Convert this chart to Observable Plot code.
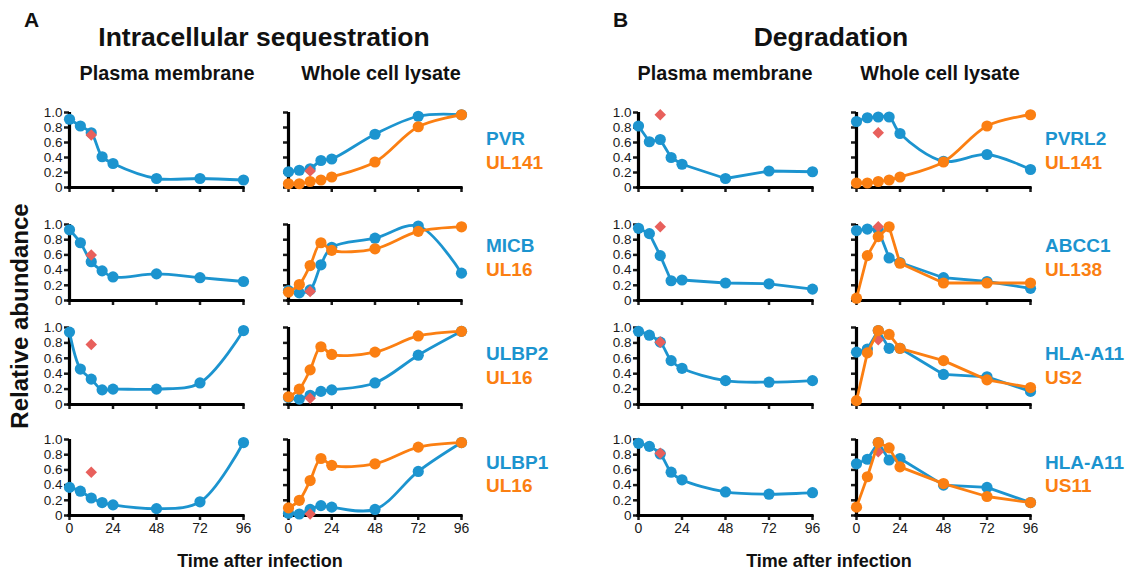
<!DOCTYPE html>
<html><head><meta charset="utf-8">
<script src="https://cdn.jsdelivr.net/npm/d3@7"></script>
<script src="https://cdn.jsdelivr.net/npm/@observablehq/plot@0.6"></script>
<style>
body{margin:0;background:#fff;}
#root{position:relative;width:1131px;height:572px;font-family:"Liberation Sans",Arial,sans-serif;color:#111;overflow:hidden;background:#fff}
.p{position:absolute}
.p svg{overflow:visible}
#overlay{position:absolute;left:0;top:0}
</style></head><body><div id="root"></div>
<script>
// ---- data ----
const times = [0, 6, 12, 18, 24, 48, 72, 96];
const xTicks = [0, 24, 48, 72, 96];
const yTicks = [0, 0.2, 0.4, 0.6, 0.8, 1.0];
const diamondTime = 12;

// A: Intracellular sequestration — plasma membrane
const pvrPM   = [0.91, 0.82, 0.73, 0.41, 0.32, 0.12, 0.12, 0.10];
const micbPM  = [0.93, 0.76, 0.51, 0.39, 0.31, 0.35, 0.30, 0.25];
const ulbp2PM = [0.94, 0.46, 0.33, 0.19, 0.20, 0.20, 0.28, 0.96];
const ulbp1PM = [0.37, 0.32, 0.23, 0.17, 0.14, 0.09, 0.18, 0.96];
const diamondsA_PM = [0.70, 0.60, 0.78, 0.57];

// A: whole cell lysate
const pvrWCL      = [0.21, 0.23, 0.25, 0.36, 0.38, 0.71, 0.95, 0.97];
const ul141WCL_A  = [0.05, 0.05, 0.08, 0.10, 0.14, 0.34, 0.81, 0.97];
const micbWCL     = [0.13, 0.10, 0.14, 0.47, 0.70, 0.82, 0.98, 0.36];
const ul16WCL_1   = [0.11, 0.21, 0.46, 0.76, 0.66, 0.68, 0.91, 0.97];
const ulbp2WCL    = [0.09, 0.07, 0.12, 0.17, 0.19, 0.28, 0.64, 0.95];
const ul16WCL_2   = [0.10, 0.20, 0.45, 0.75, 0.65, 0.68, 0.89, 0.95];
const ulbp1WCL    = [0.03, 0.02, 0.08, 0.13, 0.11, 0.08, 0.58, 0.96];
const ul16WCL_3   = [0.10, 0.20, 0.46, 0.75, 0.66, 0.68, 0.90, 0.96];
const diamondsA_WCL = [0.22, 0.12, 0.08, 0.02];

// B: Degradation — plasma membrane
const pvrl2PM   = [0.82, 0.61, 0.64, 0.40, 0.31, 0.12, 0.22, 0.21];
const abcc1PM   = [0.95, 0.88, 0.59, 0.26, 0.27, 0.23, 0.22, 0.15];
const hlaPM_1   = [0.95, 0.90, 0.81, 0.57, 0.47, 0.31, 0.29, 0.31];
const hlaPM_2   = [0.95, 0.91, 0.81, 0.57, 0.47, 0.31, 0.28, 0.30];
const diamondsB_PM = [0.97, 0.97, 0.81, 0.82];

// B: whole cell lysate
const pvrl2WCL    = [0.88, 0.93, 0.94, 0.94, 0.72, 0.35, 0.44, 0.24];
const ul141WCL_B  = [0.06, 0.06, 0.08, 0.10, 0.14, 0.34, 0.82, 0.97];
const abcc1WCL    = [0.92, 0.94, 0.93, 0.56, 0.50, 0.30, 0.25, 0.16];
const ul138WCL    = [0.03, 0.59, 0.84, 0.97, 0.49, 0.23, 0.23, 0.23];
const hlaWCL_1    = [0.68, 0.72, 0.96, 0.73, 0.73, 0.39, 0.36, 0.17];
const us2WCL      = [0.05, 0.67, 0.96, 0.91, 0.73, 0.57, 0.32, 0.22];
const hlaWCL_2    = [0.68, 0.74, 0.96, 0.73, 0.75, 0.40, 0.37, 0.17];
const us11WCL     = [0.11, 0.51, 0.96, 0.89, 0.64, 0.42, 0.25, 0.17];
const diamondsB_WCL = [0.73, 0.97, 0.84, 0.84];

const labelsA = [["PVR", "UL141"], ["MICB", "UL16"], ["ULBP2", "UL16"], ["ULBP1", "UL16"]];
const labelsB = [["PVRL2", "UL141"], ["ABCC1", "UL138"], ["HLA-A11", "US2"], ["HLA-A11", "US11"]];

// ---- style / layout ----
const BLUE = "#1c94cf", ORANGE = "#fb7f12", RED = "#e8605c";
const colX = [69, 288, 638, 856];
const colW = [174, 173, 174, 174];
const rowTop = [112, 224, 327, 439];
const rowH = [75, 76, 77, 76];
const ML = 44, MR = 12, MT = 12;

const toRows = (vals) => times.map((t, i) => ({t, v: vals[i]}));
const fmt = d => d === 0 ? "0" : d.toFixed(1);

const panels = [
  // col 0: A PM
  {r:0,c:0,blue:pvrPM,dia:diamondsA_PM[0],curve:"catmull-rom"},
  {r:1,c:0,blue:micbPM,dia:diamondsA_PM[1],curve:"catmull-rom"},
  {r:2,c:0,blue:ulbp2PM,dia:diamondsA_PM[2],curve:"catmull-rom"},
  {r:3,c:0,blue:ulbp1PM,dia:diamondsA_PM[3],curve:"catmull-rom"},
  // col 1: A WCL
  {r:0,c:1,blue:pvrWCL,orange:ul141WCL_A,dia:diamondsA_WCL[0],curve:"catmull-rom"},
  {r:1,c:1,blue:micbWCL,orange:ul16WCL_1,dia:diamondsA_WCL[1],curve:"catmull-rom"},
  {r:2,c:1,blue:ulbp2WCL,orange:ul16WCL_2,dia:diamondsA_WCL[2],curve:"catmull-rom"},
  {r:3,c:1,blue:ulbp1WCL,orange:ul16WCL_3,dia:diamondsA_WCL[3],curve:"catmull-rom"},
  // col 2: B PM
  {r:0,c:2,blue:pvrl2PM,dia:diamondsB_PM[0],curve:"linear"},
  {r:1,c:2,blue:abcc1PM,dia:diamondsB_PM[1],curve:"linear"},
  {r:2,c:2,blue:hlaPM_1,dia:diamondsB_PM[2],curve:"catmull-rom"},
  {r:3,c:2,blue:hlaPM_2,dia:diamondsB_PM[3],curve:"catmull-rom"},
  // col 3: B WCL
  {r:0,c:3,blue:pvrl2WCL,orange:ul141WCL_B,dia:diamondsB_WCL[0],curve:"catmull-rom"},
  {r:1,c:3,blue:abcc1WCL,orange:ul138WCL,dia:diamondsB_WCL[1],curve:"linear"},
  {r:2,c:3,blue:hlaWCL_1,orange:us2WCL,dia:diamondsB_WCL[2],curve:"linear"},
  {r:3,c:3,blue:hlaWCL_2,orange:us11WCL,dia:diamondsB_WCL[3],curve:"linear"}
];

const root = document.getElementById("root");

for (const p of panels) {
  const showY = (p.c === 0 || p.c === 2);
  const showX = (p.r === 3);
  const MB = showX ? 34 : 14;
  const w = colW[p.c], h = rowH[p.r];
  const blueData = toRows(p.blue);
  const diaData = [{t: diamondTime, v: p.dia}];
  const marks = [
    Plot.axisY({ticks: yTicks, tickSize: 5, strokeWidth: 2.5, tickPadding: 2, fontSize: 13.5,
                tickFormat: showY ? fmt : () => "", label: null, fill: "#1a1a1a"}),
    Plot.axisX({ticks: xTicks, tickSize: 5, strokeWidth: 2.5, tickPadding: 3, fontSize: 14,
                tickFormat: showX ? (d => String(d)) : () => "", label: null, fill: "#1a1a1a"}),
    Plot.ruleY([0], {stroke: "#000", strokeWidth: 3.2, strokeLinecap: "square"}),
    Plot.ruleX([0], {stroke: "#000", strokeWidth: 3.2}),
    Plot.line(blueData, {x: "t", y: "v", stroke: BLUE, strokeWidth: 2.8, curve: p.curve}),
    Plot.dot(blueData, {x: "t", y: "v", fill: BLUE, r: 5.6}),
    Plot.dot(diaData, {x: "t", y: "v", fill: RED, symbol: "diamond2", r: 5.2})
  ];
  if (p.orange) {
    const od = toRows(p.orange);
    marks.push(Plot.line(od, {x: "t", y: "v", stroke: ORANGE, strokeWidth: 2.8, curve: p.curve}));
    marks.push(Plot.dot(od, {x: "t", y: "v", fill: ORANGE, r: 5.6}));
  }
  const chart = Plot.plot({
    width: ML + w + MR, height: MT + h + MB,
    marginLeft: ML, marginRight: MR, marginTop: MT, marginBottom: MB,
    x: {domain: [0, 96]},
    y: {domain: [0, 1]},
    style: {fontFamily: "'Liberation Sans', Arial, sans-serif", fontSize: "14px", color: "#1a1a1a", background: "transparent", overflow: "visible"},
    marks
  });
  const div = document.createElement("div");
  div.className = "p";
  div.style.left = (colX[p.c] - ML) + "px";
  div.style.top = (rowTop[p.r] - MT) + "px";
  div.appendChild(chart);
  root.appendChild(div);
}

// ---- text overlay ----
const svg = d3.select(root).append("svg").attr("id", "overlay")
  .attr("width", 1131).attr("height", 572)
  .style("font-family", "'Liberation Sans', Arial, sans-serif")
  .style("font-weight", "bold")
  .style("pointer-events", "none");

const addText = (txt, x, y, size, fill = "#111", anchor = "start") =>
  svg.append("text").attr("x", x).attr("y", y).attr("font-size", size)
     .attr("fill", fill).attr("text-anchor", anchor).text(txt);

addText("A", 24, 27, 21);
addText("B", 613, 27, 21);
addText("Intracellular sequestration", 264, 46, 26.5, "#111", "middle");
addText("Degradation", 831, 46, 26.5, "#111", "middle");
addText("Plasma membrane", 167, 80, 19.8, "#111", "middle");
addText("Whole cell lysate", 381, 80, 19.8, "#111", "middle");
addText("Plasma membrane", 725, 80, 19.8, "#111", "middle");
addText("Whole cell lysate", 940, 80, 19.8, "#111", "middle");
addText("Time after infection", 260, 567, 18, "#111", "middle");
addText("Time after infection", 829, 567, 18, "#111", "middle");
svg.append("text").attr("transform", "translate(28,316) rotate(-90)")
   .attr("font-size", 24).attr("fill", "#111").attr("text-anchor", "middle")
   .text("Relative abundance");

const labelBase = [[145, 169], [252, 276], [360, 384], [469, 492]];
labelsA.forEach((pair, i) => {
  addText(pair[0], 486, labelBase[i][0], 19, BLUE);
  addText(pair[1], 486, labelBase[i][1], 19, ORANGE);
});
labelsB.forEach((pair, i) => {
  addText(pair[0], 1045, labelBase[i][0], 19, BLUE);
  addText(pair[1], 1045, labelBase[i][1], 19, ORANGE);
});
</script></body></html>
